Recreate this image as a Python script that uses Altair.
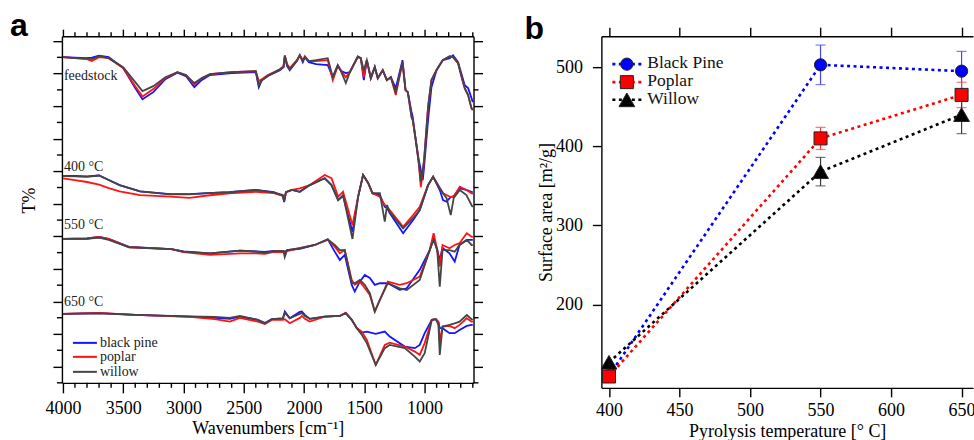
import altair as alt
import pandas as pd

SERIF = "Liberation Serif"
SANS = "Liberation Sans"

# ---------------- panel a: FTIR spectra (offset transmittance) ----------------
SPECIES = ["black pine", "poplar", "willow"]
SPECIES_COLORS = ["#1414ff", "#ff1414", "#454545"]

FEED_WN = [4000, 3900, 3800, 3760, 3700, 3620, 3500, 3400, 3340, 3250,
           3150, 3050, 2980, 2910, 2850, 2780, 2600, 2400, 2375, 2350,
           2300, 2200, 2170, 2159, 2140, 2118, 2060, 2035, 2010, 1993,
           1960, 1900, 1803, 1761, 1720, 1690, 1653, 1620, 1554, 1529,
           1504, 1479, 1446, 1413, 1388, 1347, 1313, 1280, 1239, 1183,
           1158, 1139, 1108, 1098, 1073, 1048, 1031, 1015, 1004, 971,
           943, 901, 849, 791, 764, 722, 686, 667, 639, 611, 600]
FEED_PINE = [20.01, 19.98, 19.95, 19.98, 20.10, 20.01, 19.34, 18.11, 17.43, 17.86,
             18.66, 19.06, 18.85, 18.17, 18.60, 18.91, 19.03, 19.09, 18.17, 18.60,
             18.85, 19.21, 19.40, 20.07, 19.46, 19.21, 19.77, 20.13, 19.70, 20.01,
             19.70, 19.58, 19.52, 18.78, 19.52, 19.15, 19.03, 19.09, 20.01, 19.95,
             18.60, 19.83, 18.72, 19.40, 18.72, 19.21, 18.60, 18.78, 18.11, 19.83,
             17.99, 17.86, 16.64, 16.33, 14.92, 13.69, 13.08, 12.46, 13.26, 16.14,
             18.17, 19.21, 19.83, 19.95, 20.13, 19.70, 18.78, 18.29, 18.11, 17.50, 17.25]
FEED_POPLAR = [20.01, 19.95, 19.89, 19.77, 20.01, 19.95, 19.34, 18.23, 17.59, 18.05,
               18.72, 19.09, 18.91, 18.32, 18.72, 18.97, 19.09, 19.15, 18.54, 18.66,
               18.91, 19.27, 19.46, 20.13, 19.58, 19.34, 19.83, 20.13, 19.83, 20.07,
               19.77, 19.77, 19.83, 18.60, 19.46, 19.15, 18.78, 19.09, 20.01, 19.95,
               18.78, 19.83, 18.72, 19.40, 18.72, 19.21, 18.60, 18.78, 17.68, 19.70,
               17.99, 17.86, 16.33, 16.14, 14.92, 13.50, 12.03, 12.95, 13.69, 16.94,
               18.60, 19.21, 19.83, 20.07, 20.01, 19.64, 18.60, 18.11, 17.68, 16.88, 16.76]
FEED_WILLOW = [20.01, 19.95, 19.92, 19.89, 20.07, 19.95, 19.40, 18.48, 17.93, 18.23,
               18.78, 19.09, 18.91, 18.42, 18.72, 18.97, 19.09, 19.15, 18.29, 18.60,
               18.85, 19.27, 19.40, 20.07, 19.52, 19.27, 19.77, 20.13, 19.77, 20.01,
               19.77, 19.83, 19.95, 18.78, 19.52, 19.09, 18.42, 19.09, 20.07, 19.95,
               19.21, 19.83, 18.72, 19.40, 18.72, 19.21, 18.60, 18.78, 17.86, 19.70,
               17.99, 17.86, 16.33, 16.14, 14.92, 13.50, 12.34, 13.08, 13.69, 16.94,
               18.60, 19.21, 19.83, 20.07, 20.01, 19.64, 18.60, 18.11, 17.68, 16.88, 16.76]

C400_WN = [4000, 3900, 3800, 3700, 3620, 3530, 3360, 3110, 2950, 2800,
           2620, 2400, 2250, 2175, 2165, 2150, 2100, 2035, 1952, 1828,
           1772, 1717, 1676, 1598, 1551, 1510, 1468, 1432, 1371, 1330,
           1311, 1289, 1178, 1095, 1040, 971, 929, 874, 847, 818,
           783, 758, 708, 653, 611, 600]
C400_PINE = [12.71, 12.71, 12.68, 12.74, 12.46, 12.15, 11.76, 11.60, 11.60, 11.66,
             11.72, 11.85, 11.72, 11.48, 11.11, 11.72, 11.85, 11.74, 12.15, 12.57,
             12.15, 11.23, 11.48, 9.27, 11.44, 12.77, 12.28, 11.65, 11.54, 10.82,
             10.74, 10.43, 9.19, 10.01, 10.62, 12.15, 12.66, 11.85, 11.23, 11.13,
             11.42, 11.48, 11.95, 11.85, 11.74, 11.72]
C400_POPLAR = [12.57, 12.46, 12.34, 12.18, 11.97, 11.76, 11.54, 11.44, 11.37, 11.51,
               11.65, 11.74, 11.66, 11.48, 11.17, 11.72, 11.85, 11.95, 12.15, 12.77,
               12.57, 11.44, 11.74, 9.70, 11.44, 12.77, 12.28, 11.65, 11.44, 10.93,
               10.80, 10.62, 9.59, 10.31, 10.82, 12.15, 12.66, 11.97, 11.65, 11.54,
               11.42, 11.44, 12.05, 11.85, 11.65, 11.60]
C400_WILLOW = [12.71, 12.68, 12.65, 12.74, 12.46, 12.15, 11.76, 11.58, 11.58, 11.66,
               11.71, 11.85, 11.69, 11.54, 11.17, 11.72, 11.85, 11.74, 12.15, 12.57,
               12.15, 11.23, 11.54, 8.84, 11.44, 12.77, 12.28, 11.65, 11.65, 9.90,
               10.93, 10.50, 9.49, 10.13, 10.62, 12.15, 12.66, 11.97, 11.65, 11.36,
               10.31, 11.36, 11.85, 11.54, 10.93, 10.80]

C550_WN = [4000, 3800, 3700, 3620, 3450, 3100, 3000, 2780, 2530, 2400,
           2325, 2250, 2170, 2160, 2140, 2035, 1910, 1803, 1745, 1703,
           1662, 1604, 1579, 1537, 1496, 1454, 1413, 1371, 1305, 1206,
           1148, 1040, 957, 925, 895, 874, 851, 793, 750, 710,
           650, 610, 600]
C550_PINE = [8.84, 8.87, 8.96, 8.84, 8.35, 8.21, 8.07, 7.96, 8.12, 8.07,
             8.04, 8.10, 8.10, 8.04, 8.16, 8.23, 8.47, 8.82, 8.06, 7.55,
             7.86, 6.02, 5.61, 6.22, 6.63, 6.45, 6.02, 6.12, 6.12, 5.71,
             5.81, 6.94, 8.16, 8.88, 8.16, 7.55, 8.29, 7.96, 7.45, 8.47,
             8.78, 8.78, 8.78]
C550_POPLAR = [8.84, 8.87, 8.96, 8.84, 8.33, 8.21, 8.04, 7.86, 7.96, 7.96,
               7.92, 8.04, 8.04, 7.98, 8.10, 8.27, 8.47, 8.78, 8.37, 7.96,
               8.16, 6.32, 6.02, 6.22, 5.83, 5.40, 4.38, 5.09, 6.22, 6.02,
               6.12, 6.53, 8.16, 9.19, 8.16, 7.14, 8.47, 8.27, 8.47, 8.58,
               9.19, 8.98, 8.96]
C550_WILLOW = [8.84, 8.84, 8.93, 8.78, 8.33, 8.21, 8.06, 7.96, 8.12, 8.07,
               7.98, 8.10, 8.10, 7.73, 8.16, 8.27, 8.47, 8.82, 8.47, 8.16,
               8.16, 6.14, 6.12, 6.32, 6.02, 5.51, 4.38, 5.09, 6.12, 5.81,
               5.71, 6.32, 8.16, 8.78, 8.16, 5.91, 8.16, 8.16, 8.06, 8.47,
               8.78, 8.47, 8.47]

C650_WN = [4000, 3700, 3400, 2950, 2740, 2615, 2532, 2383, 2325, 2267,
           2175, 2159, 2118, 2035, 2018, 1993, 1952, 1828, 1703, 1654,
           1604, 1562, 1521, 1479, 1405, 1330, 1289, 1164, 1081, 1040,
           999, 940, 907, 885, 874, 851, 793, 750, 710, 650,
           610, 600]
C650_PINE = [4.24, 4.28, 4.17, 4.07, 3.99, 3.93, 4.07, 3.87, 3.68, 3.91,
             3.96, 4.38, 3.97, 4.36, 4.38, 4.17, 3.93, 4.07, 4.11, 4.28,
             3.87, 3.36, 3.09, 3.15, 3.01, 3.15, 2.84, 2.23, 2.13, 2.33,
             3.05, 3.87, 3.91, 3.74, 3.36, 3.36, 3.05, 3.05, 3.25, 3.50,
             3.56, 3.56]
C650_POPLAR = [4.24, 4.30, 4.17, 4.05, 3.91, 3.76, 3.99, 3.76, 3.62, 3.87,
               3.87, 3.91, 3.66, 3.99, 4.11, 3.93, 3.76, 4.07, 4.11, 4.31,
               3.87, 3.36, 3.15, 2.64, 1.10, 2.33, 2.47, 2.23, 1.92, 1.72,
               2.44, 3.87, 3.91, 3.74, 2.54, 3.46, 3.50, 3.36, 3.56, 3.97,
               3.76, 3.74]
C650_WILLOW = [4.24, 4.27, 4.17, 4.08, 4.05, 3.99, 4.11, 3.87, 3.65, 3.91,
               3.96, 4.30, 3.97, 4.24, 4.30, 4.11, 3.93, 4.07, 4.11, 4.28,
               3.87, 3.36, 2.95, 2.44, 1.10, 2.13, 2.33, 2.13, 1.61, 1.31,
               1.82, 3.87, 3.91, 3.56, 1.72, 3.46, 3.56, 3.66, 3.76, 4.17,
               3.91, 3.87]

GROUP_NAMES = ["feedstock", "400 °C", "550 °C", "650 °C"]
GROUP_DATA = [
    (FEED_WN, [FEED_PINE, FEED_POPLAR, FEED_WILLOW]),
    (C400_WN, [C400_PINE, C400_POPLAR, C400_WILLOW]),
    (C550_WN, [C550_PINE, C550_POPLAR, C550_WILLOW]),
    (C650_WN, [C650_PINE, C650_POPLAR, C650_WILLOW]),
]

X_MAJOR = [4000, 3500, 3000, 2500, 2000, 1500, 1000]
X_MINOR = [w for w in range(3900, 599, -100) if w % 500 != 0]
Y_MAJOR = list(range(1, 22, 2))
Y_MINOR = list(range(0, 21, 2))

# ---------------- panel b: BET surface area ----------------
TEMPS = [400, 550, 650]
SERIES_B = ["Black Pine", "Poplar", "Willow"]
AREA = {
    "Black Pine": [110, 503, 495],
    "Poplar": [109, 410, 465],
    "Willow": [127, 368, 440],
}
AREA_ERR = {
    "Black Pine": [None, 25, 25],
    "Poplar": [None, 14, 16],
    "Willow": [None, 18, 24],
}
B_TICKS_X = [400, 450, 500, 550, 600, 650]
B_TICKS_Y = [200, 300, 400, 500]

LINE_COLOR_B = {"Black Pine": "#0000ff", "Poplar": "#ff0000", "Willow": "#000000"}
ERR_COLOR_B = {"Black Pine": "#4646ff", "Poplar": "#ff3a3a", "Willow": "#3a3a3a"}
SHAPE_B = {"Black Pine": "circle", "Poplar": "square", "Willow": "triangle-up"}
SIZE_B = {"Black Pine": 150, "Poplar": 170, "Willow": 250}

# ---------------- build panel a ----------------
rows = []
for gname, (wn, series) in zip(GROUP_NAMES, GROUP_DATA):
    for sp, vals in zip(SPECIES, series):
        for w, t in zip(wn, vals):
            rows.append({"group": gname, "species": sp, "wn": w, "t": t})
spectra = pd.DataFrame(rows)

A_W, A_H = 412, 347
xa = alt.Scale(domain=[594, 4008], reverse=True, zero=False, nice=False)
ya = alt.Scale(domain=[0, 21.3], zero=False, nice=False)
AXIS_STROKE = 1.4

spectra_lines = alt.Chart(spectra).mark_line(strokeWidth=1.8).encode(
    x=alt.X("wn:Q", scale=xa,
            axis=alt.Axis(orient="bottom", values=X_MAJOR, format="d", tickSize=10,
                          labelPadding=7, title="Wavenumbers [cm⁻¹]", titleY=37)),
    y=alt.Y("t:Q", scale=ya,
            axis=alt.Axis(orient="left", values=Y_MAJOR, tickSize=9, labels=False,
                          title="T%", titleX=-23, titleY=164, titleBaseline="bottom")),
    color=alt.Color("species:N", scale=alt.Scale(domain=SPECIES, range=SPECIES_COLORS), legend=None),
    detail="group:N",
)

minor_x = pd.DataFrame({"wn": X_MINOR})
minor_y = pd.DataFrame({"t": Y_MINOR})

top_minor = alt.Chart(minor_x).mark_rule(color="black", strokeWidth=AXIS_STROKE).encode(
    x=alt.X("wn:Q", scale=xa,
            axis=alt.Axis(orient="top", values=X_MAJOR, tickSize=7, labels=False, title=None)),
    y=alt.value(0), y2=alt.value(-4),
)
bottom_minor = alt.Chart(minor_x).mark_rule(color="black", strokeWidth=AXIS_STROKE).encode(
    x=alt.X("wn:Q", scale=xa, axis=None),
    y=alt.value(A_H), y2=alt.value(A_H + 5),
)
left_minor = alt.Chart(minor_y).mark_rule(color="black", strokeWidth=AXIS_STROKE).encode(
    y=alt.Y("t:Q", scale=ya, axis=None),
    x=alt.value(0), x2=alt.value(-5),
)
right_minor = alt.Chart(minor_y).mark_rule(color="black", strokeWidth=AXIS_STROKE).encode(
    y=alt.Y("t:Q", scale=ya,
            axis=alt.Axis(orient="right", values=Y_MAJOR, tickSize=9, labels=False, title=None)),
    x=alt.value(A_W), x2=alt.value(A_W + 5),
)

# group captions above each set of spectra
GROUP_LABEL_Y = [40, 131, 189, 266.5]
group_labels = [
    alt.Chart(pd.DataFrame({"label": [g]})).mark_text(
        align="left", baseline="middle", font=SERIF, fontSize=14, color="#222"
    ).encode(text="label:N", x=alt.value(2), y=alt.value(gy))
    for g, gy in zip(GROUP_NAMES, GROUP_LABEL_Y)
]

# legend for the spectra
LEG_A_Y = [307, 321, 336]
legend_a = []
for sp, col, ly in zip(SPECIES, SPECIES_COLORS, LEG_A_Y):
    legend_a.append(
        alt.Chart(pd.DataFrame({"label": [sp]})).mark_rule(color=col, strokeWidth=2).encode(
            x=alt.value(11), x2=alt.value(35), y=alt.value(ly))
    )
    legend_a.append(
        alt.Chart(pd.DataFrame({"label": [sp]})).mark_text(
            align="left", baseline="middle", font=SERIF, fontSize=14, color="#222"
        ).encode(text="label:N", x=alt.value(38), y=alt.value(ly))
    )

tag_a = alt.Chart(pd.DataFrame({"tag": ["a"]})).mark_text(
    align="left", baseline="alphabetic", font=SANS, fontSize=32, fontWeight="bold", color="black"
).encode(text="tag:N", x=alt.value(-52), y=alt.value(0))

panel_a = alt.layer(
    spectra_lines, top_minor, bottom_minor, left_minor, right_minor,
    *group_labels, *legend_a, tag_a,
).properties(width=A_W, height=A_H).resolve_axis(x="independent", y="independent")

# ---------------- build panel b ----------------
brows = []
for s in SERIES_B:
    for t, a, e in zip(TEMPS, AREA[s], AREA_ERR[s]):
        brows.append({"series": s, "temp": t, "area": a,
                      "lo": None if e is None else a - e,
                      "hi": None if e is None else a + e})
area_df = pd.DataFrame(brows)

B_W, B_H = 372, 352
xb = alt.Scale(domain=[394.6, 658.1], zero=False, nice=False)
yb = alt.Scale(domain=[94.7, 539.2], zero=False, nice=False)
DASH = [3, 3.5]

b_lines, b_errs, b_points = [], [], []
for i, s in enumerate(SERIES_B):
    d = area_df[area_df["series"] == s]
    de = d.dropna(subset=["lo", "hi"])
    if i == 0:
        xax = alt.X("temp:Q", scale=xb,
                    axis=alt.Axis(orient="bottom", values=B_TICKS_X, format="d", tickSize=9,
                                  labelPadding=5, title="Pyrolysis temperature [° C]", titleY=35))
        yax = alt.Y("area:Q", scale=yb,
                    axis=alt.Axis(orient="left", values=B_TICKS_Y, format="d", tickSize=9,
                                  labelPadding=10, title="Surface area [m²/g]", titleX=-46,
                                  titleBaseline="bottom"))
    else:
        xax = alt.X("temp:Q", scale=xb, axis=None)
        yax = alt.Y("area:Q", scale=yb, axis=None)
    b_lines.append(
        alt.Chart(d).mark_line(strokeDash=DASH, strokeWidth=2.6, color=LINE_COLOR_B[s]).encode(
            x=xax, y=yax)
    )
    if i == 0:
        ex = alt.X("temp:Q", scale=xb,
                   axis=alt.Axis(orient="top", values=B_TICKS_X, tickSize=9, labels=False, title=None))
    else:
        ex = alt.X("temp:Q", scale=xb, axis=None)
    b_errs.append(
        alt.Chart(de).mark_rule(color=ERR_COLOR_B[s], strokeWidth=1.2).encode(
            x=ex, y=alt.Y("lo:Q", scale=yb, axis=None), y2="hi:Q")
    )
    for end in ["lo", "hi"]:
        b_errs.append(
            alt.Chart(de).mark_tick(orient="horizontal", size=10, thickness=1.2,
                                    color=ERR_COLOR_B[s]).encode(
                x=alt.X("temp:Q", scale=xb, axis=None),
                y=alt.Y(f"{end}:Q", scale=yb, axis=None))
        )
    b_points.append(
        alt.Chart(d).mark_point(shape=SHAPE_B[s], size=SIZE_B[s], filled=True, opacity=1,
                                fill=LINE_COLOR_B[s], stroke="#222222", strokeWidth=1).encode(
            x=alt.X("temp:Q", scale=xb, axis=None),
            y=alt.Y("area:Q", scale=yb, axis=None))
    )

# legend for the surface-area series
LEG_B_Y = [28, 46, 63.7]
legend_b = []
for s, ly in zip(SERIES_B, LEG_B_Y):
    one = pd.DataFrame({"label": [s]})
    legend_b.append(
        alt.Chart(one).mark_rule(strokeDash=DASH, strokeWidth=2.6, color=LINE_COLOR_B[s]).encode(
            x=alt.value(11), x2=alt.value(40), y=alt.value(ly))
    )
    legend_b.append(
        alt.Chart(one).mark_point(shape=SHAPE_B[s], size=SIZE_B[s], filled=True, opacity=1,
                                  fill=LINE_COLOR_B[s], stroke="#222222", strokeWidth=1).encode(
            x=alt.value(25.5), y=alt.value(ly))
    )
    legend_b.append(
        alt.Chart(one).mark_text(align="left", baseline="middle", font=SERIF, fontSize=17.5,
                                 color="#111").encode(
            text="label:N", x=alt.value(46), y=alt.value(ly - 1))
    )

tag_b = alt.Chart(pd.DataFrame({"tag": ["b"]})).mark_text(
    align="left", baseline="alphabetic", font=SANS, fontSize=32, fontWeight="bold", color="black"
).encode(text="tag:N", x=alt.value(-77), y=alt.value(3))

panel_b = alt.layer(
    *b_lines, *b_errs, *b_points, *legend_b, tag_b,
).properties(width=B_W, height=B_H).resolve_axis(x="independent", y="independent")

chart = alt.hconcat(panel_a, panel_b, spacing=41).properties(
    padding={"left": 10, "top": 10, "right": -2, "bottom": 0},
    background="white",
).configure_view(stroke=None).configure_axis(
    domainColor="black", tickColor="black", domainWidth=AXIS_STROKE, tickWidth=AXIS_STROKE,
    grid=False, labelFont=SERIF, labelFontSize=18, labelColor="black", labelFlush=False,
    titleFont=SERIF, titleFontSize=18, titleFontWeight="normal", titleColor="black",
)

chart.save("out.html", embed_options={"renderer": "svg", "actions": False})
